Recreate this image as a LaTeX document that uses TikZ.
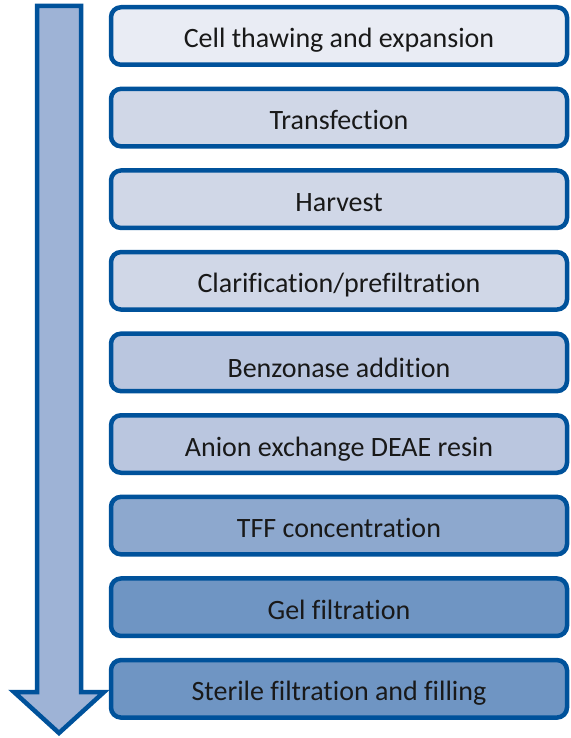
\documentclass[tikz,border=0pt]{standalone}
\usepackage{fontspec}
\setmainfont{Carlito}[Ligatures=NoCommon]
\usetikzlibrary{positioning}
\usepackage{xcolor}
\definecolor{flowblue}{RGB}{0, 82, 155}
\definecolor{shaftblue}{RGB}{158, 179, 214}
\definecolor{paleblue}{RGB}{233, 236, 244}
\definecolor{lightblue}{RGB}{208, 215, 231}
\definecolor{midblue}{RGB}{186, 198, 223}
\definecolor{softblue}{RGB}{141, 168, 206}
\definecolor{deepblue}{RGB}{111, 149, 195}

\begin{document}
\begin{tikzpicture}[
  x=1pt, y=-1pt,
  node distance=19.6pt,
  stepbox/.style={rectangle, rounded corners=10pt, draw=flowblue, line width=4.5pt, fill=#1,
                  minimum width=456pt, minimum height=57.5pt,
                  text height=26pt, text depth=2pt,
                  text=black!90, font=\fontsize{28}{32}\selectfont},
  bigarrow/.style={draw=flowblue, line width=4.5pt, fill=shaftblue}
]
\useasboundingbox (0,0) rectangle (570,738);

% process arrow on the left
\draw[bigarrow] (37,6) -- (81,6) -- (81,692) -- (104,692) -- (59,733)
  -- (14,692) -- (37,692) -- cycle;

% process steps
\node[stepbox=paleblue] (thaw) at (339,36) {Cell thawing and expansion};
\node[stepbox=lightblue, below=of thaw]  (transf)  {Transfection};
\node[stepbox=lightblue, below=of transf] (harv)   {Harvest};
\node[stepbox=lightblue, below=of harv]   (clar)   {Clarification/prefiltration};
\node[stepbox=midblue,   below=of clar]   (benz)   {\raisebox{-3pt}[\height][\depth]{Benzonase addition}};
\node[stepbox=midblue,   below=of benz]   (aex)    {Anion exchange DEAE resin};
\node[stepbox=softblue,  below=of aex]    (tff)    {TFF concentration};
\node[stepbox=deepblue,  below=of tff]    (gel)    {Gel filtration};
\node[stepbox=deepblue,  below=of gel]    (fill)   {Sterile filtration and filling};
\end{tikzpicture}
\end{document}
